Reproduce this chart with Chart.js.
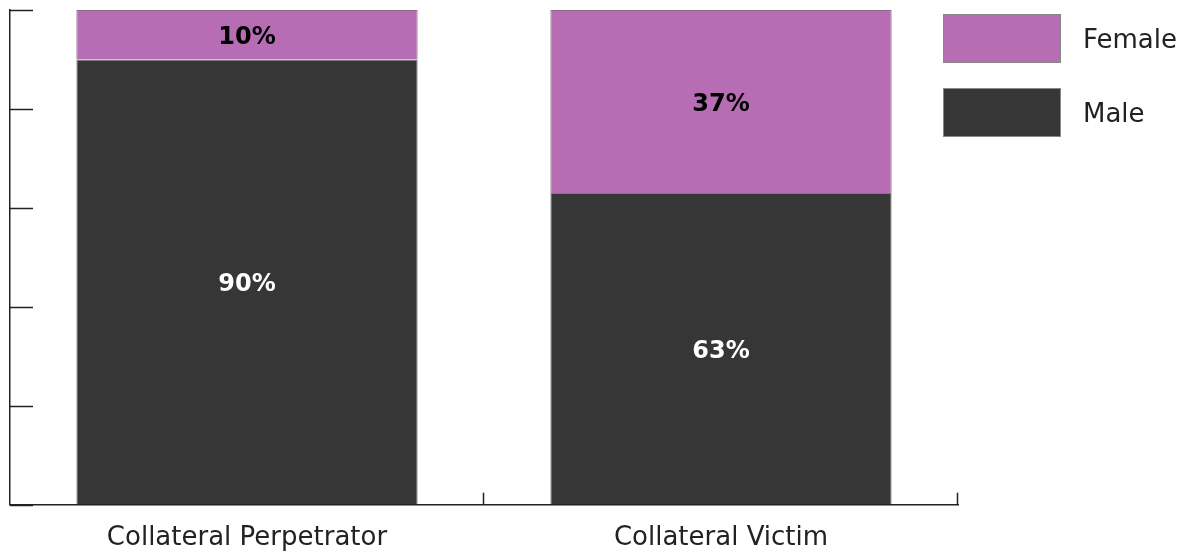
<!DOCTYPE html>
<html>
<head>
<meta charset="utf-8">
<script src="https://cdn.jsdelivr.net/npm/chart.js@4.4.1/dist/chart.umd.min.js"></script>
<style>
  body { margin: 0; background: #fff; }
  #wrap { position: relative; width: 1188px; height: 552px; overflow: hidden; }
  #legend { position: absolute; left: 943px; top: 14px; font-family: "DejaVu Sans", sans-serif; }
  .item { display: flex; align-items: center; height: 49px; margin-bottom: 25px; }
  .box { width: 116px; height: 47px; border: 1px solid #888; }
  .lbl { margin-left: 22px; font-size: 26px; color: #222; }
</style>
</head>
<body>
<div id="wrap">
  <canvas id="chart" width="1188" height="552"></canvas>
  <div id="legend"></div>
</div>
<script>
var categories = ['Collateral Perpetrator', 'Collateral Victim'];
var maleValues = [90, 63];
var femaleValues = [10, 37];
var yTicks = [0, 20, 40, 60, 80, 100];

var purple = '#b76db3';
var dark = '#363636';

// small inward tick marks + value labels
var extras = {
    id: 'extras',
    afterDatasetsDraw: function(chart) {
        var ctx = chart.ctx;
        ctx.save();
        ctx.font = 'bold 24px "DejaVu Sans", sans-serif';
        ctx.textAlign = 'center';
        ctx.textBaseline = 'middle';
        chart.data.datasets.forEach(function(ds, di) {
            chart.getDatasetMeta(di).data.forEach(function(bar, i) {
                var p = bar.getProps(['x', 'y', 'base'], true);
                ctx.fillStyle = ds.labelColor;
                ctx.fillText(ds.data[i] + '%', p.x, (p.y + p.base) / 2 + 3);
            });
        });
        ctx.restore();
    },
    afterDraw: function(chart) {
        var ctx = chart.ctx;
        var y = chart.scales.y, x = chart.scales.x;
        ctx.save();
        ctx.strokeStyle = '#222';
        ctx.lineWidth = 1.5;
        ctx.beginPath();
        yTicks.forEach(function(v) {
            var py = Math.round(y.getPixelForValue(v)) + 0.5;
            ctx.moveTo(y.right, py);
            ctx.lineTo(y.right + 23, py);
        });
        for (var i = 0; i < categories.length; i++) {
            var px = i < categories.length - 1
                ? (x.getPixelForValue(i) + x.getPixelForValue(i + 1)) / 2
                : x.right;
            px = Math.round(px) - 0.5;
            ctx.moveTo(px, x.top);
            ctx.lineTo(px, x.top - 12);
        }
        ctx.stroke();
        ctx.restore();
    }
};

var chart = new Chart(document.getElementById('chart'), {
    type: 'bar',
    data: {
        labels: categories,
        datasets: [
            { label: 'Male', data: maleValues, backgroundColor: dark, borderColor: '#7d7d7d', borderWidth: 1, labelColor: '#fff' },
            { label: 'Female', data: femaleValues, backgroundColor: purple, borderColor: '#8a6a88', borderWidth: 1, labelColor: '#000' }
        ]
    },
    options: {
        responsive: false,
        animation: false,
        categoryPercentage: 0.72,
        barPercentage: 1,
        layout: { padding: { left: 10, top: 10, right: 230, bottom: -20 } },
        plugins: { legend: { display: false }, tooltip: { enabled: false } },
        scales: {
            x: {
                stacked: true,
                grid: { display: true, drawOnChartArea: false, drawTicks: false },
                border: { display: true, color: '#222', width: 1.5 },
                ticks: { color: '#222', padding: 18, font: { family: '"DejaVu Sans", sans-serif', size: 26 } }
            },
            y: {
                stacked: true,
                min: 0,
                max: 100,
                grid: { display: true, drawOnChartArea: false, drawTicks: false },
                border: { display: true, color: '#222', width: 1.5 },
                ticks: { display: false, stepSize: 20 }
            }
        }
    },
    plugins: [extras]
});

// legend built from the chart's datasets, Female on top
var legend = document.getElementById('legend');
chart.data.datasets.slice().reverse().forEach(function(ds) {
    var item = document.createElement('div');
    item.className = 'item';
    var box = document.createElement('div');
    box.className = 'box';
    box.style.background = ds.backgroundColor;
    var lbl = document.createElement('span');
    lbl.className = 'lbl';
    lbl.textContent = ds.label;
    item.appendChild(box);
    item.appendChild(lbl);
    legend.appendChild(item);
});
</script>
</body>
</html>
